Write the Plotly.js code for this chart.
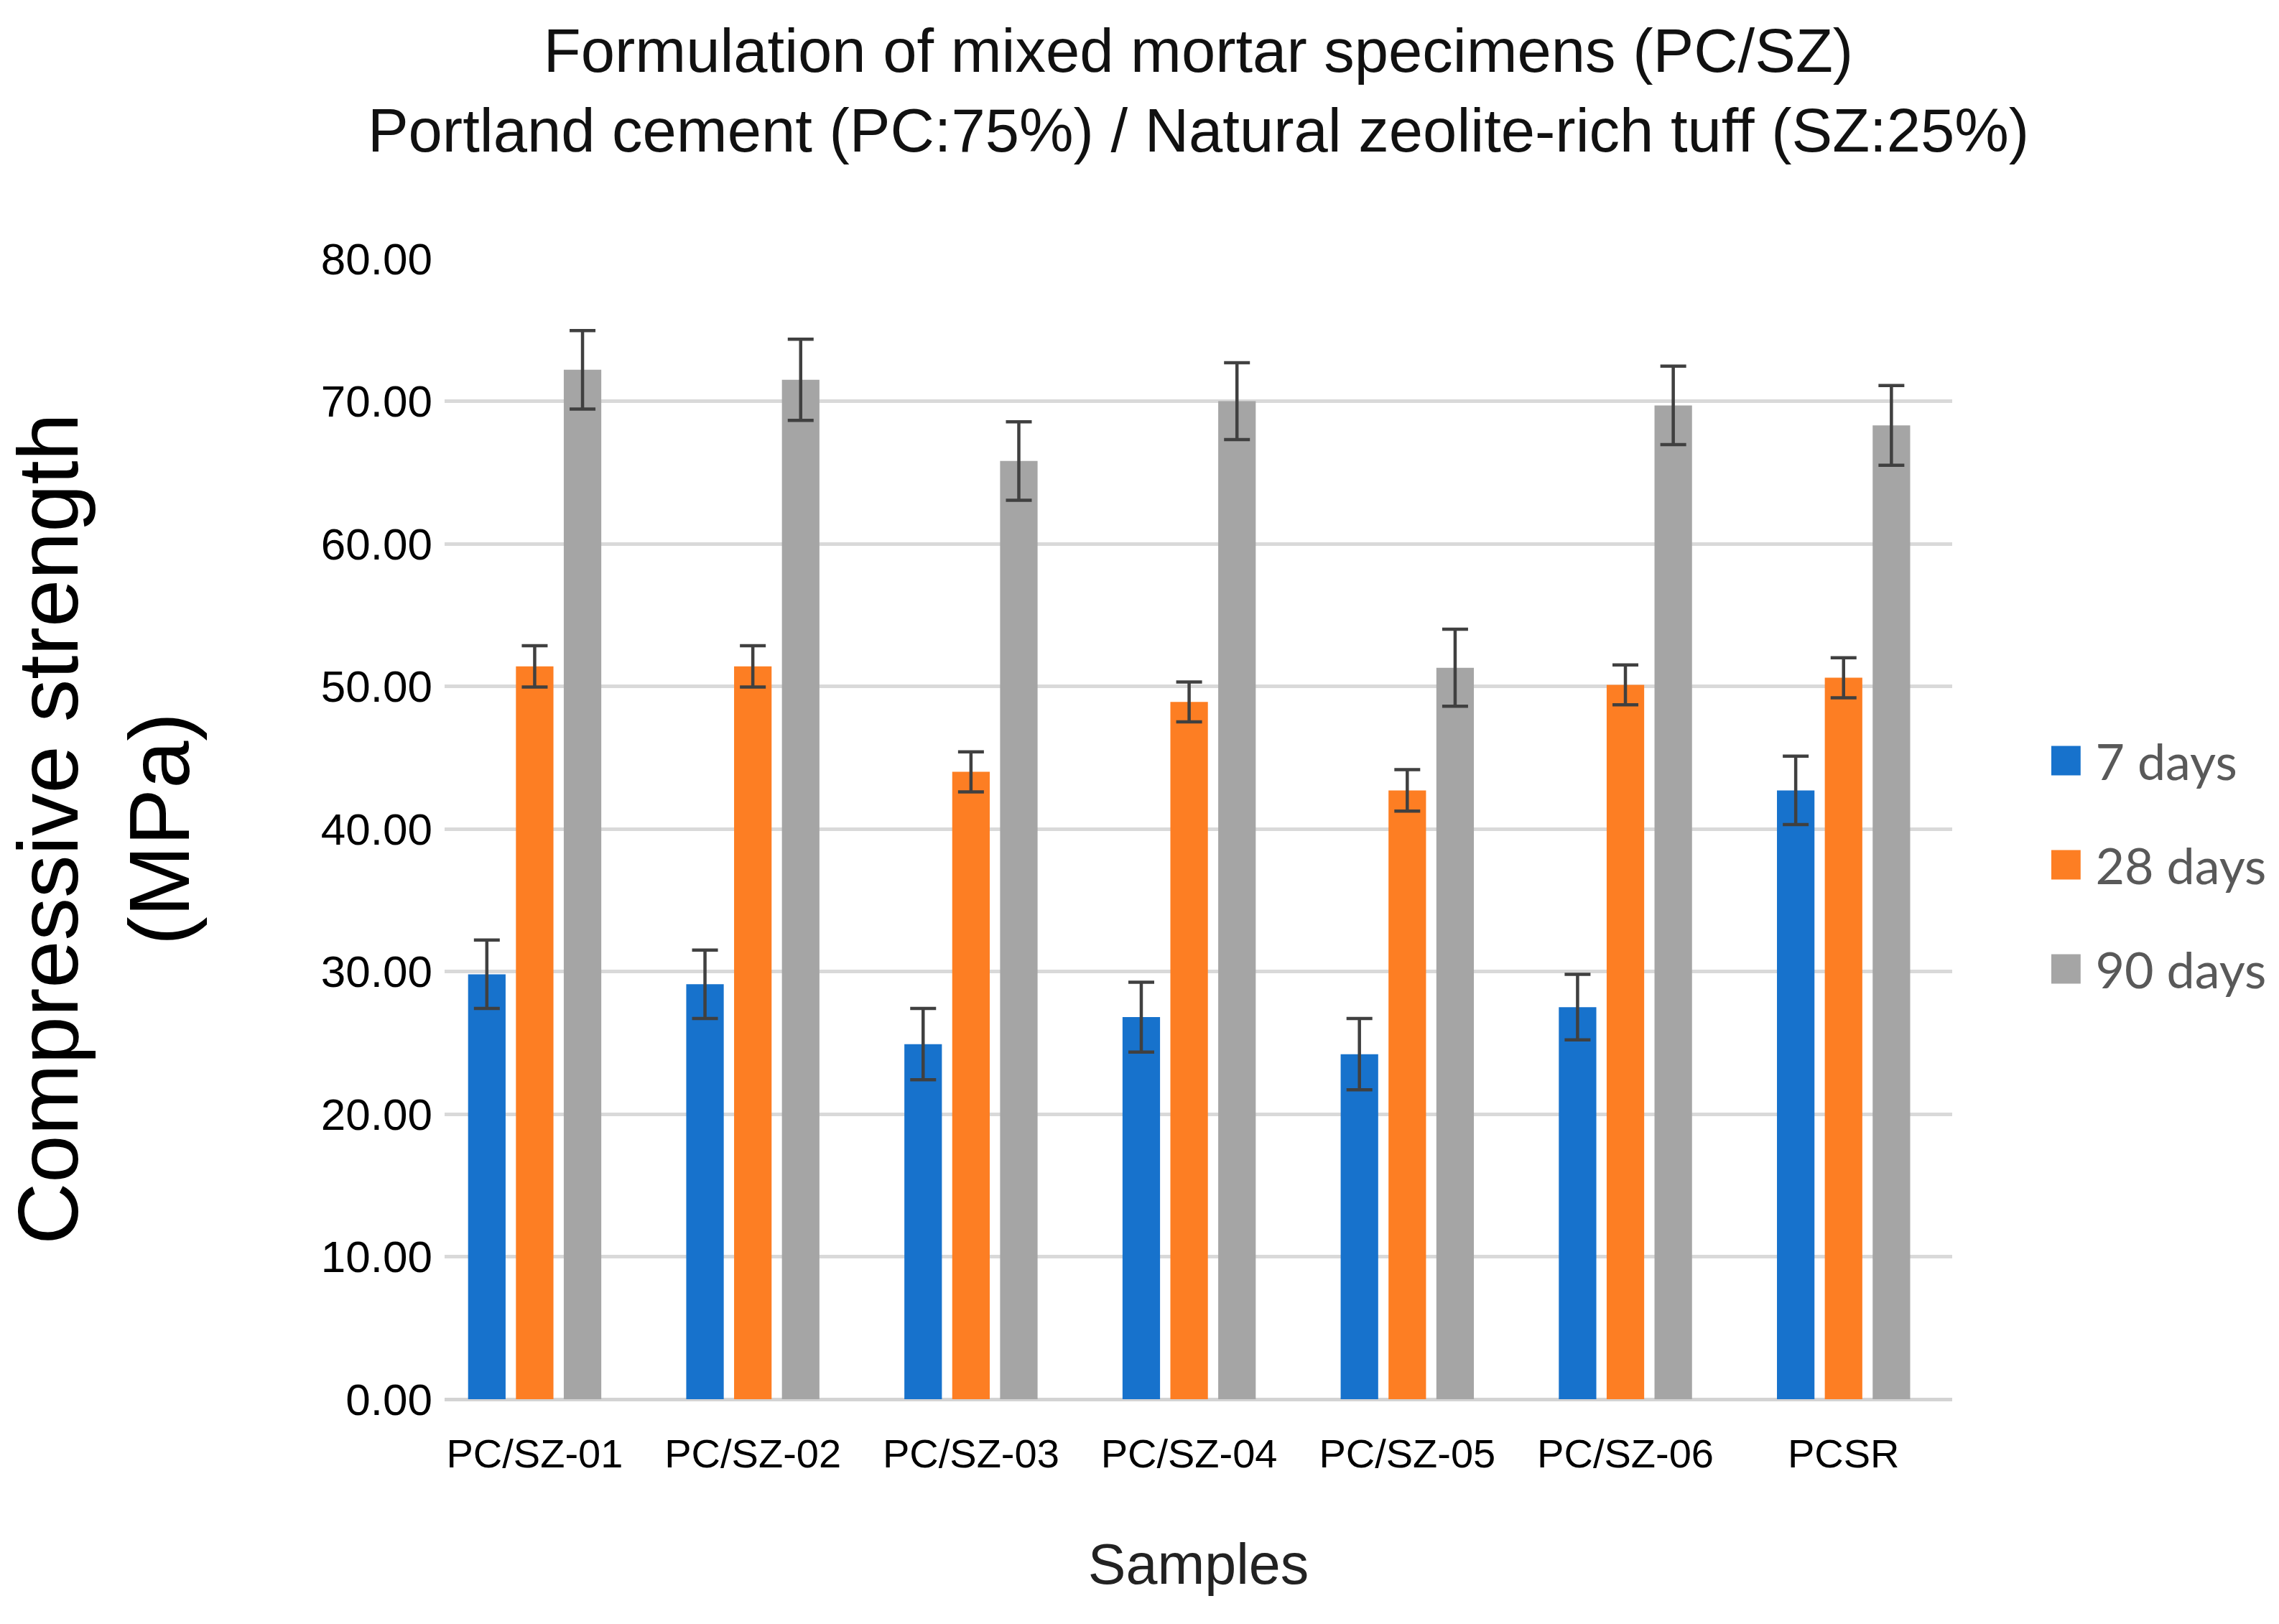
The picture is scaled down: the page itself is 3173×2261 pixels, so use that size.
<!DOCTYPE html>
<html>
<head>
<meta charset="utf-8">
<script src="https://cdn.plot.ly/plotly-3.0.1.min.js"></script>
<style>
  html, body { margin: 0; padding: 0; background: #ffffff; }
  #chart { width: 3173px; height: 2261px; }
</style>
</head>
<body>
<div id="chart"></div>
<script>
// ---- data ----
const samples = ["PC/SZ-01", "PC/SZ-02", "PC/SZ-03", "PC/SZ-04", "PC/SZ-05", "PC/SZ-06", "PCSR"];

const days7  = [29.8, 29.1, 24.9, 26.8, 24.2, 27.5, 42.7];
const err7   = [2.4, 2.4, 2.5, 2.45, 2.5, 2.3, 2.4];

const days28 = [51.4, 51.4, 44.0, 48.9, 42.7, 50.1, 50.6];
const err28  = [1.45, 1.45, 1.4, 1.4, 1.45, 1.4, 1.4];

const days90 = [72.2, 71.5, 65.8, 70.0, 51.3, 69.7, 68.3];
const err90  = [2.75, 2.85, 2.75, 2.7, 2.7, 2.75, 2.8];

const seriesNames = ["7 days", "28 days", "90 days"];
const yTicks = [0, 10, 20, 30, 40, 50, 60, 70, 80];
// ---------------------------------------

const colors = ["#1772CC", "#FD7E23", "#A5A5A5"];
const errColor = "#404040";

function barTrace(name, y, err, color) {
  return {
    type: "bar",
    name: name,
    legendgroup: name,
    x: samples,
    y: y,
    marker: { color: color, line: { width: 0 } },
    error_y: { type: "data", array: err, visible: true, color: errColor, thickness: 4.5, width: 18 },
    hoverinfo: "skip"
  };
}

const data = [
  barTrace(seriesNames[0], days7, err7, colors[0]),
  barTrace(seriesNames[1], days28, err28, colors[1]),
  barTrace(seriesNames[2], days90, err90, colors[2])
];

const W = 3173, H = 2261;
const plotL = 619, plotR = 2729, plotT = 360, plotB = 1948;

const layout = {
  width: W,
  height: H,
  paper_bgcolor: "#ffffff",
  plot_bgcolor: "#ffffff",
  margin: { l: plotL, r: W - plotR, t: plotT, b: H - plotB, pad: 0 },
  barmode: "group",
  bargap: 0.342,
  bargroupgap: 0.216,
  font: { family: "Liberation Sans, Arial, sans-serif", color: "#000000" },
  title: {
    text: "Formulation of mixed mortar specimens (PC/SZ)<br>Portland cement (PC:75%) / Natural zeolite-rich tuff (SZ:25%)",
    font: { family: "Liberation Sans, Arial, sans-serif", size: 85, color: "#111111" },
    x: 0.5, xref: "paper", xanchor: "center",
    y: 1 - 100 / H, yref: "container", yanchor: "middle"
  },
  xaxis: {
    type: "category",
    range: [-0.413, 6.498],
    showgrid: false,
    showline: false,
    zeroline: false,
    ticks: "",
    ticklabelstandoff: 38,
    tickfont: { family: "Liberation Sans, Arial, sans-serif", size: 56, color: "#000000" },
    title: {
      text: "Samples",
      font: { family: "Liberation Sans, Arial, sans-serif", size: 79, color: "#222222" },
      standoff: 95
    },
    automargin: false
  },
  yaxis: {
    range: [0, 80],
    tickvals: yTicks,
    tickformat: ".2f",
    showgrid: true,
    gridcolor: "#D9D9D9",
    gridwidth: 5,
    zeroline: true,
    zerolinecolor: "#D3D3D3",
    zerolinewidth: 5,
    showline: false,
    ticks: "",
    ticklabelstandoff: 16,
    tickfont: { family: "Liberation Sans, Arial, sans-serif", size: 62, color: "#000000" },
    title: {
      text: "Compressive strength<br>(MPa)",
      font: { family: "Liberation Sans, Arial, sans-serif", size: 119, color: "#000000" },
      standoff: 178
    },
    automargin: false
  },
  legend: {
    x: (2847 - plotL) / (plotR - plotL),
    xanchor: "left",
    y: (plotB - 1204) / (plotB - plotT),
    yanchor: "middle",
    font: { family: "Lato, Open Sans, sans-serif", size: 70, color: "#595959" },
    itemwidth: 72,
    tracegroupgap: 51,
    traceorder: "grouped",
    bgcolor: "rgba(0,0,0,0)",
    borderwidth: 0
  },
  showlegend: true
};

function enlargeSwatches(gd) {
  const pts = gd.querySelectorAll(".legend .legendpoints path");
  pts.forEach(function (p) {
    if (p.getAttribute("data-scaled")) return;
    const base = p.getAttribute("transform") || "";
    p.setAttribute("transform", base + " scale(3.4)");
    p.setAttribute("data-scaled", "1");
  });
}

Plotly.newPlot("chart", data, layout, { staticPlot: true, displayModeBar: false }).then(function (gd) {
  enlargeSwatches(gd);
  gd.on && gd.on("plotly_afterplot", function () { enlargeSwatches(gd); });
});
</script>
</body>
</html>
